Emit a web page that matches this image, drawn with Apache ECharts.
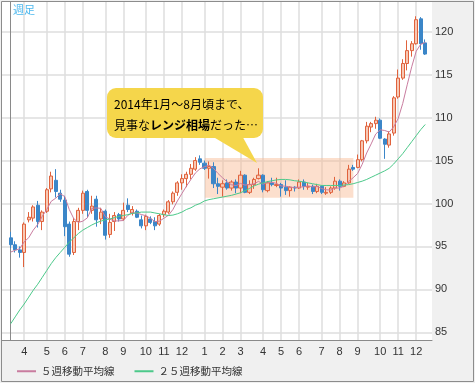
<!DOCTYPE html>
<html><head><meta charset="utf-8">
<script src="https://cdn.jsdelivr.net/npm/echarts@6/dist/echarts.min.js"></script>
<style>html,body{margin:0;padding:0;background:#f0f0f0;}#c{width:475px;height:383px;}</style>
</head><body><div id="c"></div>
<script>
// Weekly USD/JPY candles, week 0 = 2013-03-11
const startWeek = '2013-03-11';
const open = [
 96.0, 95.2, 94.6, 94.3, 98.1, 98.3, 99.8, 97.9, 99.1, 101.7,
 102.7, 101.2, 100.4, 97.6, 94.3, 97.9, 99.2, 101.4, 99.2, 100.5,
 98.2, 99.1, 96.4, 97.9, 98.7, 98.2, 99.8, 98.9, 99.1, 98.1,
 97.4, 98.2, 97.9, 97.6, 98.7, 99.0, 100.2, 101.3, 102.4, 102.9,
 103.4, 104.0, 105.2, 104.7, 104.1, 104.3, 102.3, 101.9, 102.4, 101.8,
 102.5, 101.8, 103.3, 101.3, 102.2, 102.9, 103.3, 101.5, 102.4, 102.1,
 102.2, 101.9, 101.5, 101.9, 101.8, 102.5, 101.9, 102.0, 101.4, 102.0,
 101.2, 101.3, 101.8, 102.6, 102.0, 102.4, 104.2, 104.2, 105.1, 107.3,
 108.9, 109.3, 109.7, 107.5, 106.8, 108.2, 112.4, 114.6, 116.3, 117.8,
 118.6, 121.5, 118.7];
const high = [
 96.7, 95.6, 95.0, 97.8, 99.0, 99.8, 100.3, 99.2, 101.8, 103.7,
 104.0, 101.6, 100.9, 97.9, 98.3, 99.5, 101.5, 101.6, 100.9, 100.9,
 99.5, 99.3, 98.8, 99.0, 98.9, 100.1, 100.6, 99.7, 99.3, 98.6,
 98.7, 98.5, 98.4, 98.8, 99.3, 100.4, 101.4, 102.6, 103.4, 103.7,
 104.6, 105.4, 105.6, 105.0, 104.9, 104.8, 103.0, 102.7, 102.8, 102.7,
 102.8, 103.8, 103.4, 102.7, 103.0, 104.1, 103.4, 102.6, 103.0, 103.0,
 102.4, 102.7, 102.0, 102.0, 102.8, 102.8, 102.4, 102.2, 102.3, 102.1,
 101.9, 102.0, 103.1, 102.8, 102.6, 104.5, 104.5, 105.7, 107.4, 109.5,
 109.5, 110.1, 109.9, 107.6, 108.4, 112.5, 115.6, 116.8, 119.0, 118.9,
 121.8, 121.7, 119.1];
const low = [
 94.8, 94.3, 93.7, 92.6, 97.8, 97.9, 97.2, 96.9, 98.9, 101.3,
 100.7, 100.2, 96.2, 93.8, 94.0, 96.9, 98.8, 98.4, 98.8, 97.3,
 97.6, 95.8, 96.0, 96.8, 97.9, 98.0, 99.0, 98.6, 98.3, 97.1,
 96.9, 97.6, 96.9, 97.4, 98.4, 98.8, 99.9, 100.9, 101.6, 101.9,
 102.8, 103.8, 104.5, 103.9, 102.9, 101.8, 101.1, 100.8, 101.6, 101.5,
 101.2, 101.2, 101.2, 101.1, 101.7, 102.8, 101.3, 101.3, 102.0, 101.9,
 100.8, 101.0, 100.8, 101.4, 101.7, 101.6, 101.6, 101.1, 101.2, 101.1,
 101.0, 101.1, 101.6, 101.5, 101.9, 102.3, 103.8, 104.1, 104.9, 107.0,
 108.3, 108.7, 107.5, 105.2, 106.5, 107.9, 112.2, 114.4, 115.5, 117.1,
 118.5, 117.9, 117.3];
const close = [
 95.2, 94.6, 94.3, 97.6, 98.4, 99.6, 97.9, 99.0, 101.6, 103.2,
 101.4, 100.5, 97.3, 94.1, 97.9, 99.2, 101.2, 99.2, 99.7, 98.1,
 99.0, 96.3, 97.8, 98.6, 98.2, 99.2, 99.3, 99.3, 98.4, 97.4,
 98.5, 97.8, 97.4, 98.6, 99.1, 100.2, 101.2, 102.4, 102.9, 103.4,
 104.1, 105.0, 104.8, 104.1, 104.3, 102.3, 102.0, 102.3, 101.8, 102.5,
 101.8, 103.3, 101.3, 102.2, 102.8, 103.3, 101.6, 102.4, 102.2, 102.2,
 101.8, 101.5, 101.9, 101.8, 102.5, 102.0, 102.0, 101.4, 102.0, 101.3,
 101.3, 101.8, 102.6, 102.0, 102.4, 104.0, 104.0, 105.1, 107.3, 109.0,
 109.3, 109.7, 107.6, 106.9, 108.1, 112.3, 114.6, 116.3, 117.8, 118.6,
 121.4, 118.6, 117.4];
const ma5 = [
 94.34, 94.56, 94.74, 95.54, 96.02, 96.90, 97.56, 98.50, 99.30, 100.26,
 100.62, 101.14, 100.80, 99.30, 98.24, 97.80, 97.94, 98.32, 99.44, 99.48,
 99.44, 98.46, 98.18, 97.96, 97.98, 98.02, 98.62, 98.92, 98.88, 98.72,
 98.58, 98.28, 97.90, 97.94, 98.28, 98.62, 99.30, 100.30, 101.16, 102.02,
 102.80, 103.56, 104.04, 104.28, 104.46, 104.10, 103.50, 103.00, 102.54, 102.18,
 102.08, 102.34, 102.14, 102.22, 102.28, 102.58, 102.24, 102.46, 102.46, 102.34,
 102.04, 102.02, 101.92, 101.84, 101.90, 101.94, 102.04, 101.94, 101.98, 101.74,
 101.60, 101.56, 101.80, 101.80, 102.02, 102.56, 103.00, 103.50, 104.56, 105.88,
 106.94, 108.08, 108.58, 108.50, 108.32, 108.92, 109.90, 111.64, 113.82, 115.92,
 117.74, 118.54, 118.76];
const ma25 = [
 86.0, 86.8, 87.6, 88.3, 89.1, 89.9, 90.6, 91.4, 92.2, 93.0,
 93.7, 94.3, 94.9, 95.5, 96.0, 96.5, 96.9, 97.2, 97.5, 97.75,
 97.95, 98.1, 98.2, 98.35, 98.5, 98.6, 98.7, 98.85, 98.9, 99.0,
 99.0, 99.0, 98.9, 98.8, 98.7, 98.6, 98.65, 98.8, 99.0, 99.3,
 99.5, 99.8, 100.0, 100.3, 100.45, 100.55, 100.65, 100.75, 100.85, 100.95,
 101.1, 101.25, 101.5, 101.75, 102.05, 102.25, 102.4, 102.55, 102.65, 102.75,
 102.8, 102.8, 102.75, 102.65, 102.6, 102.5, 102.4, 102.3, 102.2, 102.1,
 102.1, 102.1, 102.1, 102.1, 102.15, 102.2, 102.3, 102.45, 102.6, 102.8,
 103.05, 103.3, 103.55, 103.8, 104.1, 104.6, 105.2, 105.8, 106.5, 107.2,
 107.9, 108.6, 109.2];
// first week of each month (week index) and its label
const monthTickWeeks = [3, 8, 12, 16, 21, 25, 30, 34, 38, 43, 47, 51, 56, 60, 64, 69, 73, 77, 82, 86, 90];
const monthTickLabels = ['4','5','6','7','8','9','10','11','12','1','2','3','4','5','6','7','8','9','10','11','12'];
const priceTicks = [85, 90, 95, 100, 105, 110, 115, 120];
// range box (Jan–Aug 2014)
const rangeFromWeek = 43.1, rangeToWeek = 76.05, rangeTop = 105.3, rangeBottom = 100.66;
const seriesNames = ['５週移動平均線', '２５週移動平均線'];

const labelMap = {};
monthTickWeeks.forEach((w, i) => { labelMap[w] = monthTickLabels[i]; });
const candleData = open.map((o, i) => [i, o, close[i], low[i], high[i]]);
const ma5Data = ma5.map((v, i) => [i, v]);
const ma25Data = ma25.map((v, i) => [i, v]);

const chart = echarts.init(document.getElementById('c'), null, {renderer: 'canvas', width: 475, height: 383});
const JP = '"Noto Sans CJK JP", "Noto Sans", sans-serif';
chart.setOption({
  animation: false,
  backgroundColor: '#f0f0f0',
  textStyle: {fontFamily: '"Liberation Sans", Arial, sans-serif'},
  grid: {left: 2, right: 43, top: 2, bottom: 42.5, show: true, backgroundColor: '#ffffff', borderWidth: 0},
  legend: {
    data: seriesNames, left: 12, top: 361, itemWidth: 19, itemHeight: 2, icon: 'rect', itemGap: 20,
    textStyle: {fontSize: 10.5, color: '#333', fontFamily: JP}
  },
  xAxis: {
    type: 'value', min: -1.93, max: 93.5,
    axisLine: {show: true, onZero: false, lineStyle: {color: '#8a8a8a', width: 1}},
    axisTick: {show: false, customValues: monthTickWeeks},
    axisLabel: {customValues: monthTickWeeks, formatter: v => labelMap[Math.round(v)] || '', color: '#333', fontSize: 11, margin: 6},
    splitLine: {show: true, lineStyle: {color: '#dedede', width: 1.5}}
  },
  yAxis: {
    type: 'value', position: 'right', min: 84.05, max: 123.46, scale: true,
    axisLine: {show: true, lineStyle: {color: '#8a8a8a', width: 1}},
    axisTick: {show: false, customValues: priceTicks},
    axisLabel: {customValues: priceTicks, color: '#333', fontSize: 11, margin: 3},
    splitLine: {show: true, lineStyle: {color: '#dedede', width: 1.5}}
  },
  series: [
    {
      type: 'line', name: 'range', data: [], z: 1, silent: true,
      markArea: {silent: true, itemStyle: {color: 'rgba(249,185,145,0.45)'},
        data: [[{xAxis: rangeFromWeek, yAxis: rangeTop}, {xAxis: rangeToWeek, yAxis: rangeBottom}]]}
    },
    {
      type: 'candlestick', name: '週足', data: candleData, z: 3, barWidth: 3.6,
      dimensions: ['week', 'open', 'close', 'lowest', 'highest'],
      encode: {x: 'week', y: ['open', 'close', 'lowest', 'highest']},
      itemStyle: {color: '#f7c8b4', color0: '#3b86c8', borderColor: '#e0623c', borderColor0: '#3b86c8', borderWidth: 1}
    },
    {
      type: 'line', name: seriesNames[0], data: ma5Data, symbol: 'none', z: 4,
      lineStyle: {color: '#c97c9f', width: 1}, itemStyle: {color: '#c97c9f'}
    },
    {
      type: 'line', name: seriesNames[1], data: ma25Data, symbol: 'none', z: 4,
      lineStyle: {color: '#4cc98a', width: 1}, itemStyle: {color: '#4cc98a'}
    }
  ],
  graphic: [
    {type: 'rect', silent: true, z: 100, shape: {x: 1.5, y: 1.5, width: 472, height: 380},
      style: {fill: null, stroke: '#8c8c8c', lineWidth: 1}},
    {type: 'text', silent: true, z: 100, style: {x: 13, y: 4, text: '週足', fill: '#4db8ee', fontSize: 11, fontFamily: JP}},
    {type: 'polygon', silent: true, z: 90, shape: {points: [[205, 132], [240, 132], [257, 163]]}, style: {fill: '#f5d64b'}},
    {type: 'rect', silent: true, z: 90, shape: {x: 107, y: 88, width: 156, height: 50, r: 9}, style: {fill: '#f5d64b'}},
    {type: 'text', silent: true, z: 91, style: {x: 114, y: 104, text: '2014年1月～8月頃まで、', fill: '#000', fontSize: 12, fontFamily: JP, verticalAlign: 'middle'}},
    {type: 'text', silent: true, z: 91, style: {x: 114, y: 125, text: '{n|見事な}{b|レンジ相場}{n|だった…}', verticalAlign: 'middle',
      rich: {n: {fontSize: 12, fontFamily: JP, color: '#000'}, b: {fontSize: 12, fontFamily: JP, fontWeight: 'bold', color: '#000'}}}}
  ]
});
</script></body></html>
